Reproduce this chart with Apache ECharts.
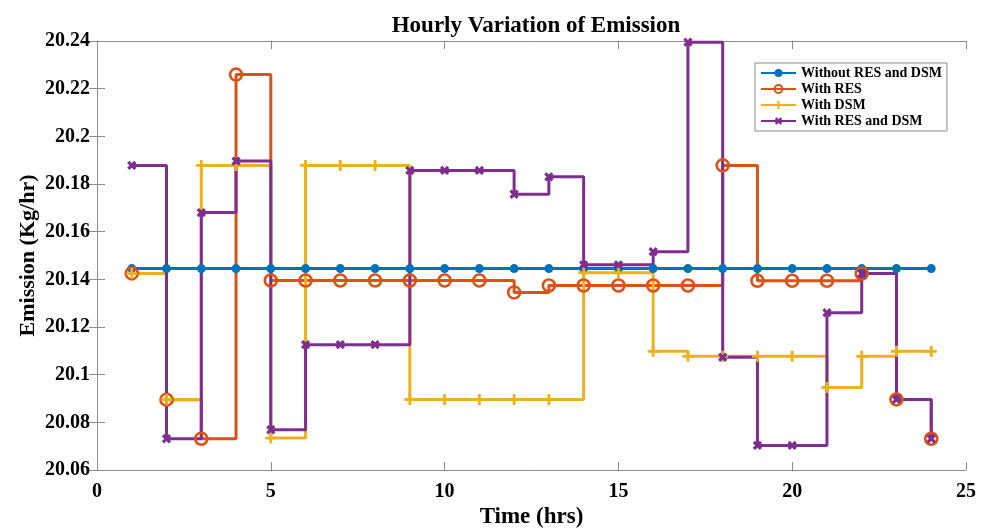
<!DOCTYPE html>
<html>
<head>
<meta charset="utf-8">
<title>Hourly Variation of Emission</title>
<script src="https://cdn.jsdelivr.net/npm/echarts@6/dist/echarts.min.js"></script>
<style>
  html, body { margin: 0; padding: 0; background: #fff; }
  #chart { width: 987px; height: 529px; }
</style>
</head>
<body>
<div id="chart"></div>
<script>
// Hour of day (x) and emission per scenario (Kg/hr)
const hours = [1, 2, 3, 4, 5, 6, 7, 8, 9, 10, 11, 12, 13, 14, 15, 16, 17, 18, 19, 20, 21, 22, 23, 24];

const withoutResDsm = [20.1445, 20.1445, 20.1445, 20.1445, 20.1445, 20.1445, 20.1445, 20.1445,
  20.1445, 20.1445, 20.1445, 20.1445, 20.1445, 20.1445, 20.1445, 20.1445,
  20.1445, 20.1445, 20.1445, 20.1445, 20.1445, 20.1445, 20.1445, 20.1445];

const withRes = [20.1425, 20.0895, 20.0731, 20.2259, 20.1395, 20.1395, 20.1395, 20.1395,
  20.1395, 20.1395, 20.1395, 20.1345, 20.1374, 20.1374, 20.1374, 20.1374,
  20.1374, 20.1878, 20.1394, 20.1394, 20.1394, 20.1424, 20.0896, 20.0731];

const withDsm = [20.1424, 20.0896, 20.1878, 20.1878, 20.0734, 20.1878, 20.1878, 20.1878,
  20.0896, 20.0896, 20.0896, 20.0896, 20.0896, 20.1428, 20.1428, 20.1098,
  20.1077, 20.1077, 20.1077, 20.1077, 20.0946, 20.1077, 20.1098, 20.1098];

const withResAndDsm = [20.1878, 20.0731, 20.1680, 20.1896, 20.0769, 20.1126, 20.1126, 20.1126,
  20.1857, 20.1857, 20.1857, 20.1757, 20.1830, 20.1461, 20.1461, 20.1516,
  20.2395, 20.1073, 20.0703, 20.0703, 20.1260, 20.1424, 20.0896, 20.0731];

const seriesNames = ['Without RES and DSM', 'With RES', 'With DSM', 'With RES and DSM'];
const colors = ['#0072BD', '#D95319', '#EDB120', '#7E2F8E'];

const FONT = '"Liberation Serif", "Times New Roman", serif';
const AXIS_GRAY = '#8c8c8c';

// plus-shaped marker; rotated 45° it becomes the cross marker
const PLUS = 'path://M3.7,0 L6.3,0 L6.3,3.7 L10,3.7 L10,6.3 L6.3,6.3 L6.3,10 L3.7,10 L3.7,6.3 L0,6.3 L0,3.7 L3.7,3.7 Z';
const CROSS = 'path://M3.4,0 L6.6,0 L6.6,3.4 L10,3.4 L10,6.6 L6.6,6.6 L6.6,10 L3.4,10 L3.4,6.6 L0,6.6 L0,3.4 L3.4,3.4 Z';

const pairs = vals => hours.map((h, i) => [h, vals[i]]);

function stairs(idx, vals, marker) {
  return Object.assign({
    name: seriesNames[idx],
    type: 'line',
    step: 'end',
    data: pairs(vals),
    lineStyle: { color: colors[idx], width: 3 },
    itemStyle: { color: colors[idx] },
    showAllSymbol: true,
    animation: false,
    emphasis: { disabled: true }
  }, marker);
}

// fixed plot rectangle; axis texts may sit outside it
const grid = { left: 97, right: 21, top: 41, bottom: 59, containLabel: false, outerBoundsMode: 'none' };

const tickFmt = v => String(parseFloat(v.toFixed(2)));

const option = {
  backgroundColor: '#ffffff',
  animation: false,
  title: {
    text: 'Hourly Variation of Emission',
    left: 531,
    textAlign: 'center',
    top: 10,
    textStyle: { fontFamily: FONT, fontWeight: 'bold', fontSize: 23, color: '#000' }
  },
  legend: {
    orient: 'vertical',
    left: 755,
    top: 63,
    padding: [3, 5, 3, 5],
    itemWidth: 35,
    itemHeight: 10,
    itemGap: 2,
    borderColor: '#8c8c8c',
    borderWidth: 1,
    backgroundColor: '#fff',
    textStyle: { fontFamily: FONT, fontWeight: 'bold', fontSize: 14, color: '#000', lineHeight: 14 },
    data: seriesNames
  },
  grid: grid,
  xAxis: [{
    type: 'value',
    min: 0, max: 25, interval: 5,
    name: 'Time (hrs)',
    nameLocation: 'middle',
    nameGap: 36,
    nameMoveOverlap: false,
    nameTextStyle: { fontFamily: FONT, fontWeight: 'bold', fontSize: 23, color: '#000' },
    axisLine: { show: true, lineStyle: { color: AXIS_GRAY, width: 1 } },
    axisTick: { show: true, inside: true, length: 8, lineStyle: { color: AXIS_GRAY } },
    axisLabel: { fontFamily: FONT, fontWeight: 'bold', fontSize: 20, color: '#000', margin: 12 },
    splitLine: { show: false }
  }, {
    type: 'value',
    position: 'top',
    min: 0, max: 25, interval: 5,
    axisLine: { show: true, lineStyle: { color: AXIS_GRAY, width: 1 } },
    axisTick: { show: true, inside: true, length: 8, lineStyle: { color: AXIS_GRAY } },
    axisLabel: { show: false },
    splitLine: { show: false }
  }],
  yAxis: [{
    type: 'value',
    min: 20.06, max: 20.24, interval: 0.02,
    name: 'Emission (Kg/hr)',
    nameLocation: 'middle',
    nameGap: 58,
    nameMoveOverlap: false,
    nameTextStyle: { fontFamily: FONT, fontWeight: 'bold', fontSize: 22, color: '#000' },
    axisLine: { show: true, lineStyle: { color: AXIS_GRAY, width: 1 } },
    axisTick: { show: true, inside: true, length: 8, lineStyle: { color: AXIS_GRAY } },
    axisLabel: { fontFamily: FONT, fontWeight: 'bold', fontSize: 20, color: '#000', margin: 7, formatter: tickFmt },
    splitLine: { show: false }
  }, {
    type: 'value',
    position: 'right',
    min: 20.06, max: 20.24, interval: 0.02,
    axisLine: { show: true, lineStyle: { color: AXIS_GRAY, width: 1 } },
    axisTick: { show: true, inside: true, length: 8, lineStyle: { color: AXIS_GRAY } },
    axisLabel: { show: false },
    splitLine: { show: false }
  }],
  series: [
    stairs(0, withoutResDsm, { symbol: 'circle', symbolSize: 9 }),
    stairs(1, withRes, {
      symbol: 'circle', symbolSize: 12,
      itemStyle: { color: 'rgba(255,255,255,0)', borderColor: colors[1], borderWidth: 2.6 }
    }),
    stairs(2, withDsm, { symbol: PLUS, symbolSize: 11 }),
    stairs(3, withResAndDsm, { symbol: CROSS, symbolSize: 10, symbolRotate: 45 })
  ]
};

const chart = echarts.init(document.getElementById('chart'), null, { renderer: 'canvas' });
chart.setOption(option);
</script>
</body>
</html>
